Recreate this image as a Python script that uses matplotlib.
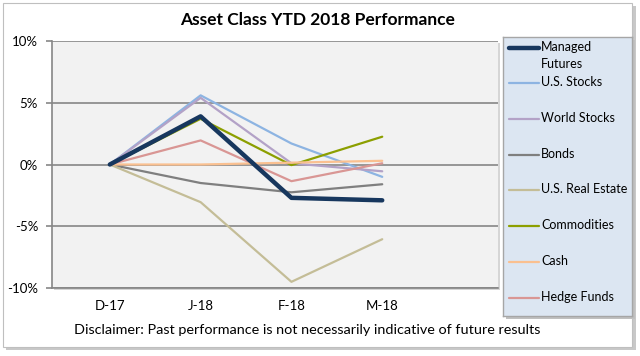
import matplotlib
matplotlib.use("Agg")
import matplotlib.pyplot as plt
from matplotlib.patches import Rectangle
from matplotlib.lines import Line2D
from matplotlib.ticker import FuncFormatter, MultipleLocator

plt.rcParams['font.family'] = ['Lato', 'DejaVu Sans']

categories = ["D-17", "J-18", "F-18", "M-18"]
series_names = ["Managed\nFutures", "U.S. Stocks", "World Stocks", "Bonds",
                "U.S. Real Estate", "Commodities", "Cash", "Hedge Funds"]
managed_futures = [0.0, 3.9, -2.7, -2.9]
us_stocks = [0.0, 5.6, 1.7, -1.0]
world_stocks = [0.0, 5.4, 0.1, -0.55]
bonds = [0.0, -1.5, -2.25, -1.6]
us_real_estate = [0.0, -3.05, -9.5, -6.05]
commodities = [0.0, 3.7, -0.05, 2.25]
cash = [0.0, 0.0, 0.15, 0.3]
hedge_funds = [0.0, 1.95, -1.35, 0.1]
series_values = [managed_futures, us_stocks, world_stocks, bonds,
                 us_real_estate, commodities, cash, hedge_funds]
colors = ["#17375E", "#8DB4E2", "#B3A2C7", "#7F7F7F",
          "#C4BD97", "#8C9F00", "#FAC090", "#D99694"]
widths = [3.2, 1.6, 1.6, 1.6, 1.6, 1.6, 1.6, 1.6]
title = "Asset Class YTD 2018 Performance"
disclaimer = "Disclaimer: Past performance is not necessarily indicative of future results"

W, H = 640, 356
fig = plt.figure(figsize=(W / 100, H / 100), dpi=100)
fig.patch.set_facecolor("white")

def fx(px):
    return px / W

def fy(py):
    return 1 - py / H

# outer chart frame with shadow
fig.patches.append(Rectangle((fx(6), fy(350)), fx(630), 344 / H, transform=fig.transFigure,
                             facecolor="#C8C8C8", edgecolor="none", zorder=-3))
fig.patches.append(Rectangle((fx(3), fy(347)), fx(629), 344 / H, transform=fig.transFigure,
                             facecolor="white", edgecolor="#BFBFBF", linewidth=0.8, zorder=-2))
# plot area shadow
fig.patches.append(Rectangle((fx(54), fy(290)), fx(446), (288 - 41) / H, transform=fig.transFigure,
                             facecolor="#D6D6D6", edgecolor="none", zorder=-1))

ax = fig.add_axes([fx(52), fy(288), fx(498 - 52), (288 - 41) / H])
ax.set_zorder(1)
ax.set_facecolor("#F2F2F2")
x = list(range(len(categories)))
order = [1, 2, 3, 4, 5, 7, 6, 0]
for i in order:
    ax.plot(x, series_values[i], color=colors[i], lw=widths[i], zorder=3 + (1 if i == 0 else 0),
            solid_capstyle="round", solid_joinstyle="round")

ax.set_ylim(-10, 10)
ax.set_xlim(-0.637, 4.275)
ax.yaxis.set_major_locator(MultipleLocator(5))
ax.yaxis.set_major_formatter(FuncFormatter(lambda v, p: f"{v:.0f}%"))
ax.set_xticks(x)
ax.set_xticklabels(categories)
ax.grid(axis="y", color="#868686", lw=1.2, zorder=1)
ax.set_axisbelow(True)
for s in ["top", "right"]:
    ax.spines[s].set_visible(False)
ax.spines["left"].set_color("#868686")
ax.spines["bottom"].set_color("#868686")
ax.spines["left"].set_linewidth(1.2)
ax.spines["bottom"].set_linewidth(1.2)
ax.tick_params(axis="y", length=4, color="#868686", width=1.2, labelsize=9.5, pad=6)
ax.tick_params(axis="x", length=0, labelsize=9.5, pad=9)

fig.text(fx(318), fy(20), title, ha="center", va="center", fontsize=12.5, fontweight="bold")
fig.text(fx(307), fy(330), disclaimer, ha="center", va="center", fontsize=10.4)

# legend box
lx0, ly0, lx1, ly1 = 503, 37, 632, 316
fig.patches.append(Rectangle((fx(lx0 + 3), fy(ly1 + 3)), fx(lx1 - lx0), (ly1 - ly0) / H,
                             transform=fig.transFigure, facecolor="#C0C0C0", edgecolor="none", zorder=1.5))
lax = fig.add_axes([fx(lx0), fy(ly1), fx(lx1 - lx0), (ly1 - ly0) / H])
lax.set_zorder(2)
lax.set_facecolor("#DCE6F2")
for s in lax.spines.values():
    s.set_color("#A6A6A6")
    s.set_linewidth(1.0)
lax.set_xticks([])
lax.set_yticks([])
lax.set_xlim(lx0, lx1)
lax.set_ylim(ly1, ly0)
for i, name in enumerate(series_names):
    yy = 48 if i == 0 else 83 + (i - 1) * 35.8
    lax.add_line(Line2D([509, 539], [yy, yy], color=colors[i], lw=widths[i],
                        solid_capstyle="round"))
    lax.text(541, yy - 7, name, ha="left", va="top", fontsize=9, linespacing=1.45)

fig.savefig("out.png", dpi=100)
